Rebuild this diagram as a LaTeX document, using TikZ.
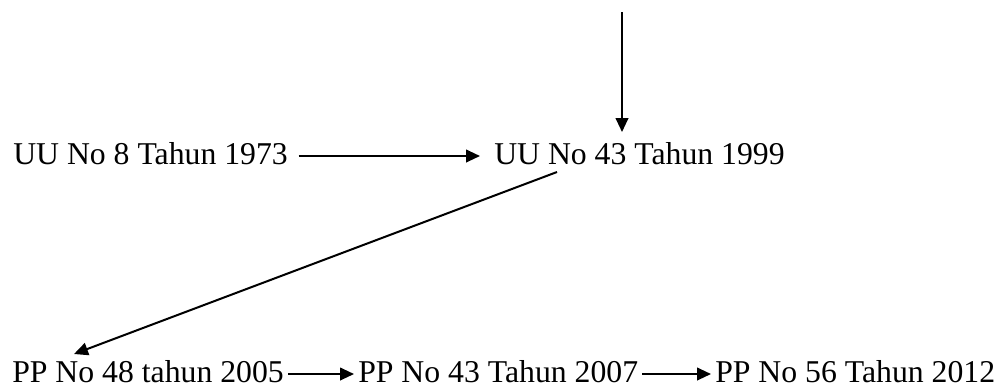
\documentclass[tikz,border=0pt]{standalone}
\usepackage{fontspec}
\setmainfont{Liberation Serif}
\usetikzlibrary{arrows.meta,calc}
\tikzset{
  law/.style={anchor=base west, inner xsep=3pt, inner ysep=0pt,
    text height=12pt, text depth=0pt, font=\fontsize{23.8}{28}\selectfont},
  link/.style={-{Triangle[length=10.5pt,width=9.5pt]}, line width=1.5pt},
}
\begin{document}
\begin{tikzpicture}[x=0.75pt,y=-0.75pt]
\useasboundingbox (0,0) rectangle (1002,387);
\node[law] (uu73) at (9,164) {UU No 8 Tahun 1973};
\node[law] (uu99) at (490,164) {UU No 43 Tahun 1999};
\node[law] (pp05) at (8,382) {PP No 48 tahun 2005};
\node[law] (pp07) at (354,382) {PP No 43 Tahun 2007};
\node[law] (pp12) at (711,382) {PP No 56 Tahun 2012};
\coordinate (top) at (622,12);
% arrows
\draw[link] (top) -- ($(uu99.base west)+(132,-32)$);
\draw[link, shorten <=5pt, shorten >=7.5pt] (uu73.east) -- (uu99.west);
\draw[link] ($(uu99.base west)+(67,8)$) -- ($(pp05.base west)+(66,-28)$);
\draw[link] (pp05.east) -- (pp07.west);
\draw[link] (pp07.east) -- (pp12.west);
\end{tikzpicture}
\end{document}
